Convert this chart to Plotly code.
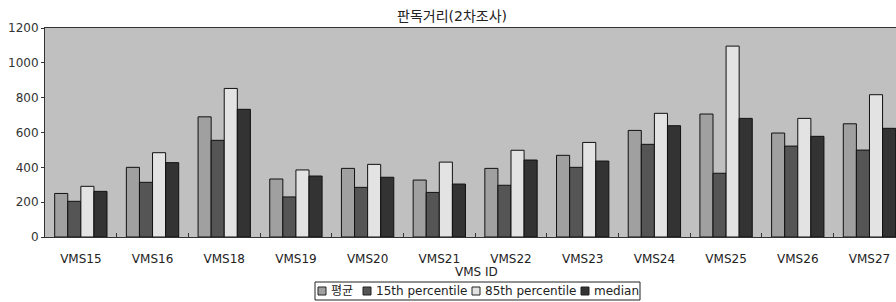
import plotly.graph_objects as go

categories = ["VMS15", "VMS16", "VMS18", "VMS19", "VMS20", "VMS21",
              "VMS22", "VMS23", "VMS24", "VMS25", "VMS26", "VMS27"]
mean_vals = [250, 400, 690, 333, 394, 327, 394, 469, 612, 706, 597, 650]
p15_vals = [205, 314, 555, 230, 285, 256, 297, 400, 532, 366, 522, 499]
p85_vals = [291, 484, 853, 385, 417, 430, 498, 543, 710, 1096, 681, 817]
median_vals = [262, 427, 733, 350, 343, 304, 442, 436, 639, 681, 578, 624]

series_names = ["평균", "15th percentile", "85th percentile", "median"]
series_values = [mean_vals, p15_vals, p85_vals, median_vals]
series_colors = ["#a0a0a0", "#555555", "#e3e3e3", "#333333"]

FONT = "DejaVu Sans, Noto Sans CJK KR, sans-serif"

W, H = 896, 302
PL, PT, PB = 45, 28, 237          # plot area edges in window pixels
PW, PH = W - PL, PB - PT


def px(x):
    return (x - PL) / PW


def py(y):
    return (PB - y) / PH


fig = go.Figure()
for name, vals, color in zip(series_names, series_values, series_colors):
    fig.add_trace(go.Bar(
        x=categories, y=vals, name=name,
        marker=dict(color=color, line=dict(color="#111111", width=1)),
        showlegend=False,
    ))

# custom compact legend (box, swatches, labels)
shapes = [dict(type="rect", xref="paper", yref="paper",
               x0=px(315), x1=px(640), y0=py(282), y1=py(300),
               line=dict(color="#222222", width=1), fillcolor="white",
               layer="above")]
annotations = []
sw_left = [318, 363, 472, 581]
for name, color, xl in zip(series_names, series_colors, sw_left):
    shapes.append(dict(type="rect", xref="paper", yref="paper",
                       x0=px(xl), x1=px(xl + 8), y0=py(287), y1=py(295),
                       line=dict(color="#222222", width=1), fillcolor=color,
                       layer="above"))
    annotations.append(dict(text=name, xref="paper", yref="paper",
                            x=px(xl + 11), y=py(291), xanchor="left",
                            yanchor="middle", showarrow=False,
                            font=dict(family=FONT, size=12, color="#222222")))

annotations.append(dict(text="VMS ID", xref="paper", yref="paper",
                        x=px(476), y=py(272), xanchor="center",
                        yanchor="middle", showarrow=False,
                        font=dict(family=FONT, size=12, color="#222222")))

fig.update_layout(
    width=W, height=H,
    margin=dict(l=PL, r=0, t=PT, b=H - PB, autoexpand=False),
    paper_bgcolor="white",
    plot_bgcolor="#c0c0c0",
    barmode="group",
    bargap=0.27,
    bargroupgap=0,
    font=dict(family=FONT, size=12, color="#333333"),
    title=dict(text="판독거리(2차조사)", x=452 / W, xanchor="center",
               y=1 - 16 / H, yanchor="middle",
               font=dict(family=FONT, size=14, color="#222222")),
    showlegend=False,
    shapes=shapes,
    annotations=annotations,
)

fig.update_xaxes(
    range=[-0.5, 11.37],
    showline=True, linecolor="#333333", linewidth=1, mirror=True,
    ticks="inside", tickson="boundaries", ticklen=4, tickcolor="#333333",
    ticklabelstandoff=11,
    showgrid=False, automargin=False,
    tickfont=dict(family=FONT, size=12, color="#222222"),
)
fig.update_yaxes(
    range=[0, 1200], dtick=200,
    showline=True, linecolor="#333333", linewidth=1,
    ticks="outside", ticklen=3, tickcolor="#333333",
    showgrid=False, zeroline=False, automargin=False,
    tickfont=dict(family=FONT, size=12, color="#333333"),
)

fig.write_html(
    "out.html",
    config={"displayModeBar": False, "staticPlot": True},
    post_script="document.body.style.margin='0';"
                "document.body.style.overflow='hidden';",
)
